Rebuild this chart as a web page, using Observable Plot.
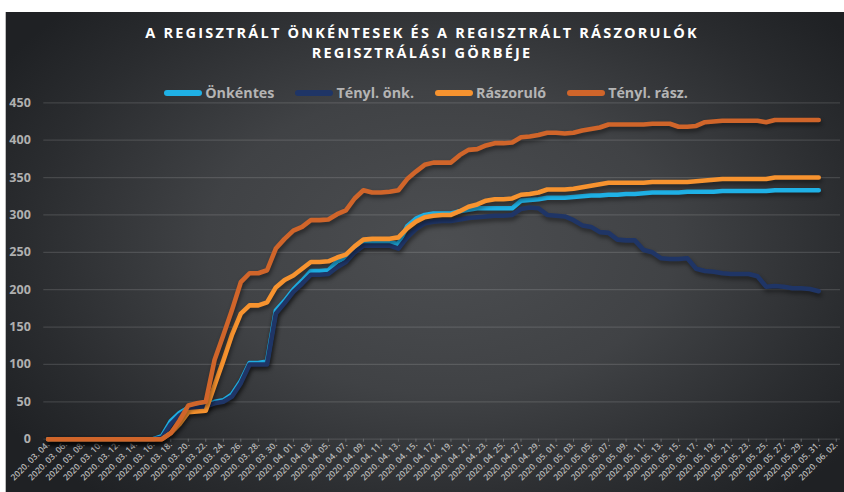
<!DOCTYPE html>
<html>
<head>
<meta charset="utf-8">
<script src="https://cdn.jsdelivr.net/npm/d3@7"></script>
<script src="https://cdn.jsdelivr.net/npm/@observablehq/plot@0.6"></script>
<style>
  html, body { margin: 0; padding: 0; background: #ffffff; }
  #page { position: relative; width: 844px; height: 492px; overflow: hidden; font-family: "Open Sans", sans-serif; }
  #bg { position: absolute; left: 5px; top: 12px; width: 839px; height: 480px;
        background: radial-gradient(ellipse 62% 70% at 52% 48%, #4c4e51 0%, #404245 45%, #2a2c2f 80%, #1f2124 100%);
        border-left: 1px solid #bdbdbd; box-sizing: border-box; }
  #header { position: relative; height: 80px; width: 844px; }
  .tline { position: absolute; left: 0; width: 844px; height: 20px; text-align: center; color: #ffffff;
           font-weight: 700; font-size: 14.5px; letter-spacing: 2.2px; line-height: 20px; }
  #legend { position: absolute; top: 84px; left: 0; width: 844px; display: flex; justify-content: center;
            gap: 21px; padding-left: 8px; box-sizing: border-box; }
  .item { display: flex; align-items: center; gap: 3px; color: #b4b4b4; font-weight: 700; font-size: 14.3px; line-height: 18px; }
  .sw { width: 38px; height: 6px; border-radius: 3px; }
  #plot { position: relative; }
  #plot svg { display: block; background: transparent; }
</style>
</head>
<body>
<div id="page">
  <div id="bg"></div>
  <div id="header">
    <div id="title"></div>
    <div id="legend"></div>
  </div>
  <div id="plot"></div>
</div>
<script>
const titleLines = ["A REGISZTRÁLT ÖNKÉNTESEK ÉS A REGISZTRÁLT RÁSZORULÓK", "REGISZTRÁLÁSI GÖRBÉJE"];
const seriesNames = ["Önkéntes", "Tényl. önk.", "Rászoruló", "Tényl. rász."];
const seriesColors = ["#1fb1e6", "#1f3566", "#f7932f", "#d0652a"];

// daily values from 2020.03.04 (index 0) to 2020.05.31 (index 88)
const onkentes = [0,0,0,0,0,0,0,0,0,0,0,0,0,
  4,24,35,42,43,45,50,52,60,78,102,102,104,172,185,200,212,225,225,226,238,243,255,263,263,263,263,261,
  285,295,300,302,302,302,305,307,309,309,309,309,309,319,320,321,323,323,323,324,325,326,326,327,327,328,328,329,330,
  330,330,330,331,331,331,331,332,332,332,332,332,332,333,333,333,333,333,333];
const tenylOnk = [0,0,0,0,0,0,0,0,0,0,0,0,0,
  2,20,32,40,42,44,48,50,57,75,100,100,100,168,182,197,208,220,220,221,230,237,250,259,259,259,259,255,
  270,281,289,291,292,292,294,296,297,298,299,299,300,308,310,309,300,299,298,293,286,284,277,276,267,266,266,253,250,
  242,241,241,242,228,225,224,222,221,221,221,218,204,205,204,202,202,201,198];
const raszorulo = [0,0,0,0,0,0,0,0,0,0,0,0,0,
  0,8,20,36,37,38,72,105,140,168,179,179,183,203,213,219,228,237,237,238,243,247,258,267,268,268,268,270,
  282,291,297,299,300,300,305,311,314,319,321,321,322,327,328,330,334,334,334,335,337,339,341,343,343,343,343,343,344,
  344,344,344,344,345,346,347,348,348,348,348,348,348,350,350,350,350,350,350];
const tenylRasz = [0,0,0,0,0,0,0,0,0,0,0,0,0,
  0,8,25,45,48,50,106,139,173,210,222,222,226,255,268,279,284,293,293,294,301,306,322,333,330,330,331,333,
  348,358,367,370,370,370,380,387,388,393,396,396,397,404,405,407,410,410,409,410,413,415,417,421,421,421,421,421,422,
  422,422,418,418,419,424,425,426,426,426,426,426,424,427,427,427,427,427,427];

// x-axis labels, every second day from 2020.03.04 to 2020.06.02
const tickLabels = ["2020. 03. 04.","2020. 03. 06.","2020. 03. 08.","2020. 03. 10.","2020. 03. 12.","2020. 03. 14.",
  "2020. 03. 16.","2020. 03. 18.","2020. 03. 20.","2020. 03. 22.","2020. 03. 24.","2020. 03. 26.","2020. 03. 28.",
  "2020. 03. 30.","2020. 04. 01.","2020. 04. 03.","2020. 04. 05.","2020. 04. 07.","2020. 04. 09.","2020. 04. 11.",
  "2020. 04. 13.","2020. 04. 15.","2020. 04. 17.","2020. 04. 19.","2020. 04. 21.","2020. 04. 23.","2020. 04. 25.",
  "2020. 04. 27.","2020. 04. 29.","2020. 05. 01.","2020. 05. 03.","2020. 05. 05.","2020. 05. 07.","2020. 05. 09.",
  "2020. 05. 11.","2020. 05. 13.","2020. 05. 15.","2020. 05. 17.","2020. 05. 19.","2020. 05. 21.","2020. 05. 23.",
  "2020. 05. 25.","2020. 05. 27.","2020. 05. 29.","2020. 05. 31.","2020. 06. 02."];
const yTicks = [0,50,100,150,200,250,300,350,400,450];

// ---- build ----
document.getElementById("title").innerHTML = titleLines.map((t, i) =>
  `<div class="tline" style="top:${23 + i * 20}px">${t}</div>`).join("");
document.getElementById("legend").innerHTML = seriesNames.map((n, i) =>
  `<div class="item"><span class="sw" style="background:${seriesColors[i]}"></span><span>${n}</span></div>`).join("");

const seriesValues = [onkentes, tenylOnk, raszorulo, tenylRasz];
const rows = seriesValues.flatMap((vals, s) => vals.map((v, i) => ({series: seriesNames[s], day: i, value: v})));
const tickPositions = tickLabels.map((_, k) => k * 2);
const lastDay = (tickLabels.length - 1) * 2;

const chart = Plot.plot({
  width: 844,
  height: 412,
  marginTop: 22.3,
  marginBottom: 53.3,
  marginLeft: 43.3,
  marginRight: 3.9,
  style: {background: "transparent", fontFamily: "Open Sans, sans-serif", overflow: "visible"},
  x: {domain: [-0.5, lastDay + 0.5], axis: null, label: null},
  y: {domain: [0, 450], axis: null, label: null},
  color: {domain: seriesNames, range: seriesColors},
  marks: [
    Plot.gridY(yTicks, {stroke: "#ffffff", strokeOpacity: 0.13, strokeWidth: 1.2}),
    Plot.axisY(yTicks, {tickSize: 0, tickPadding: 13, fontSize: 12.5, fontWeight: 700, fill: "#b0b0b0",
      label: null, tickFormat: d => String(d)}),
    Plot.axisX(tickPositions, {tickSize: 3, tickPadding: 1, tickRotate: -45, fontSize: 8.6, fontWeight: 600,
      fill: "#b8b8b8", stroke: "#6a6c6f", label: null, tickFormat: d => tickLabels[d / 2]}),
    Plot.line(rows, {x: "day", y: "value", z: "series", stroke: "series", strokeWidth: 4.6,
      strokeLinejoin: "round", strokeLinecap: "round", curve: "linear"})
  ]
});
document.getElementById("plot").appendChild(chart);
chart.querySelectorAll('g[aria-label="line"] path').forEach(p => {
  p.style.filter = "drop-shadow(1px 3px 2px rgba(0,0,0,0.45))";
});
</script>
</body>
</html>
